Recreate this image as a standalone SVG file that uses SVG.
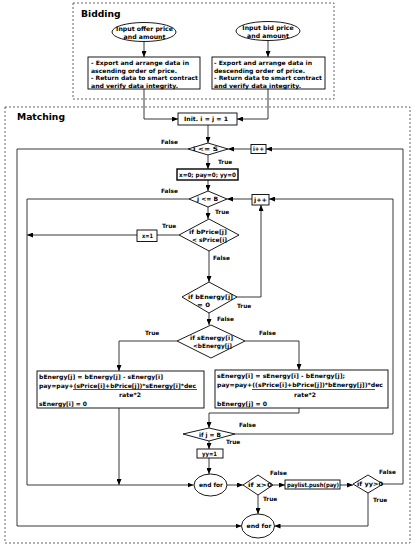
<svg xmlns="http://www.w3.org/2000/svg" width="416" height="550" viewBox="0 0 416 550">
<defs>
<marker id="ah" markerWidth="6" markerHeight="5" refX="6" refY="2.5" orient="auto" markerUnits="userSpaceOnUse"><path d="M0,0 L6,2.5 L0,5 z" fill="#000"/></marker>
<style>
text{font-family:"DejaVu Sans","Liberation Sans",sans-serif;font-weight:bold;fill:#000}
.t{font-size:6px}
.c{font-size:6px;text-anchor:middle}
.e{font-size:6.2px;text-anchor:middle}
.l{font-size:5.8px}
.h{font-size:9.2px}
.s{fill:#fff;stroke:#000;stroke-width:0.9}
.frame{fill:none;stroke:#555;stroke-width:0.9;stroke-dasharray:2,2}
.cn path{fill:none;stroke:#222;stroke-width:0.9}
.a{marker-end:url(#ah)}
</style>
</defs>
<rect width="416" height="550" fill="#fff"/>
<g id="bidding"><rect class="frame" x="73" y="3" width="261" height="96"/><text class="h" x="81" y="17">Bidding</text></g>
<g id="matching"><rect class="frame" x="5" y="107" width="405" height="436"/><text class="h" x="17" y="120">Matching</text></g>

<g class="cn" id="connectors">
<path class="a" d="M144,41.5 V57"/>
<path class="a" d="M268,40.5 V57"/>
<path class="a" d="M144,89 V119 H178"/>
<path class="a" d="M268,89 V119 H237"/>
<path class="a" d="M208,125 V143"/>
<path class="a" d="M208,155 V169"/>
<path class="a" d="M208,180 V191"/>
<path class="a" d="M208,207 V219"/>
<path d="M179,235 H157"/>
<path class="a" d="M137,235 H27"/>
<path class="a" d="M209,251 V282"/>
<path class="a" d="M237,297 H261 V205"/>
<path class="a" d="M209,313 V325"/>
<path class="a" d="M177,341 H119 V371"/>
<path class="a" d="M245,341 H299 V370"/>
<path class="a" d="M119,408 V485"/>
<path class="a" d="M299,408 V413 H209 V428"/>
<path class="a" d="M235,434 H393 V199 H269"/>
<path class="a" d="M252,199 H227"/>
<path class="a" d="M189,199 H27 V485 H193.5"/>
<path class="a" d="M209,441 V449"/>
<path class="a" d="M209,458 V474"/>
<path class="a" d="M227,485 H243"/>
<path class="a" d="M273,485 H285"/>
<path class="a" d="M340,485 H353"/>
<path class="a" d="M383,484 H403 V149 H266"/>
<path class="a" d="M251,149 H228"/>
<path class="a" d="M188,149 H17 V526 H241.5"/>
<path class="a" d="M258,495 V514"/>
<path class="a" d="M368,493 V526 H274.5"/>
</g>

<g id="offer"><ellipse class="s" cx="144" cy="32" rx="32" ry="9.5"/><text class="e" x="144.5" y="30.5">Input offer price</text><text class="e" x="144.5" y="38.5">and amount</text></g>
<g id="bid"><ellipse class="s" cx="268" cy="31" rx="32" ry="9.5"/><text class="e" x="268" y="29.5">Input bid price</text><text class="e" x="268" y="37.5">and amount</text></g>
<g id="sortAsc"><rect class="s" x="88" y="57" width="112" height="32"/>
<text class="t" x="91" y="65" textLength="98" lengthAdjust="spacingAndGlyphs">- Export and arrange data in</text><text class="t" x="91" y="72.5" textLength="86" lengthAdjust="spacingAndGlyphs">ascending order of price.</text><text class="t" x="91" y="80" textLength="107" lengthAdjust="spacingAndGlyphs">- Return data to smart contract</text><text class="t" x="91" y="87.5" textLength="87" lengthAdjust="spacingAndGlyphs">and verify data integrity.</text></g>
<g id="sortDesc"><rect class="s" x="212" y="57" width="113" height="32"/>
<text class="t" x="214" y="65" textLength="98" lengthAdjust="spacingAndGlyphs">- Export and arrange data in</text><text class="t" x="214" y="72.5" textLength="91" lengthAdjust="spacingAndGlyphs">descending order of price.</text><text class="t" x="214" y="80" textLength="108" lengthAdjust="spacingAndGlyphs">- Return data to smart contract</text><text class="t" x="214" y="87.5" textLength="87" lengthAdjust="spacingAndGlyphs">and verify data integrity.</text></g>

<g id="init"><rect class="s" x="178" y="113" width="59" height="12"/><text class="c" x="206" y="121.3" textLength="44" lengthAdjust="spacingAndGlyphs">Init. i = j = 1</text></g>
<g id="condI"><path class="s" d="M188,149 L208,143 L228,149 L208,155 z"/><text class="c" x="205.5" y="151.3" textLength="25" lengthAdjust="spacingAndGlyphs">i &lt;= S</text></g>
<g id="incI"><rect class="s" x="251" y="144.5" width="15" height="9"/><text class="c" x="258.5" y="151.3" textLength="11" lengthAdjust="spacingAndGlyphs">i++</text></g>
<g id="reset"><rect class="s" x="177" y="169" width="61" height="11" style="stroke-width:1.4"/><text class="c" x="207.5" y="176.8" textLength="57" lengthAdjust="spacingAndGlyphs">x=0; pay=0; yy=0</text></g>
<g id="condJ"><path class="s" d="M189,199 L208,191 L227,199 L208,207 z"/><text class="c" x="207.5" y="201.3" textLength="21" lengthAdjust="spacingAndGlyphs">j &lt;= B</text></g>
<g id="incJ"><rect class="s" x="252" y="194.5" width="17" height="10.5"/><text class="c" x="260.5" y="202" textLength="13" lengthAdjust="spacingAndGlyphs">j++</text></g>
<g id="condPrice"><path class="s" d="M179,235 L209,219 L239,235 L209,251 z"/><text class="c" x="208" y="234" textLength="38" lengthAdjust="spacingAndGlyphs">if bPrice[j]</text><text class="c" x="209.5" y="241.5" textLength="35" lengthAdjust="spacingAndGlyphs">&lt; sPrice[i]</text></g>
<g id="setX"><rect class="s" x="137" y="230" width="20" height="11.5"/><text class="c" x="147.5" y="238" textLength="11" lengthAdjust="spacingAndGlyphs">x=1</text></g>
<g id="condBE"><path class="s" d="M182,297 L209,282 L237,297 L209,313 z"/><text class="c" x="210.5" y="299" textLength="45" lengthAdjust="spacingAndGlyphs">if bEnergy[j]</text><text class="c" x="203.5" y="307" textLength="13" lengthAdjust="spacingAndGlyphs">= 0</text></g>
<g id="condSE"><path class="s" d="M177,341 L211,325 L245,341 L211,358 z"/><text class="c" x="211.5" y="340" textLength="43" lengthAdjust="spacingAndGlyphs">if sEnergy[i]</text><text class="c" x="212.5" y="347.5" textLength="39" lengthAdjust="spacingAndGlyphs">&lt;bEnergy[j]</text></g>
<g id="updL"><rect class="s" x="37" y="371" width="167" height="37"/>
<text class="t" x="39" y="379" textLength="124" lengthAdjust="spacingAndGlyphs">bEnergy[j] = bEnergy[j] - sEnergy[i]</text>
<text class="t" x="39" y="387.5" textLength="157" lengthAdjust="spacingAndGlyphs">pay=pay+(sPrice[i]+bPrice[j])*sEnergy[i]*dec</text>
<path d="M73,389.5 H197" stroke="#000" stroke-width="0.7"/>
<text class="c" x="130" y="397" textLength="22" lengthAdjust="spacingAndGlyphs">rate*2</text>
<text class="t" x="39" y="405.5" textLength="48" lengthAdjust="spacingAndGlyphs">sEnergy[i] = 0</text></g>
<g id="updR"><rect class="s" x="215" y="370" width="173" height="38"/>
<text class="t" x="217" y="377.5" textLength="128" lengthAdjust="spacingAndGlyphs">sEnergy[i] = sEnergy[i] - bEnergy[j];</text>
<text class="t" x="217" y="387" textLength="166" lengthAdjust="spacingAndGlyphs">pay=pay+((sPrice[i]+bPrice[j])*bEnergy[j])*dec</text>
<path d="M252,389.5 H375" stroke="#000" stroke-width="0.7"/>
<text class="c" x="305" y="396.5" textLength="22" lengthAdjust="spacingAndGlyphs">rate*2</text>
<text class="t" x="217" y="405.5" textLength="50" lengthAdjust="spacingAndGlyphs">bEnergy[j] = 0</text></g>
<g id="condJB"><path class="s" d="M183,434 L209,428 L235,434 L209,441 z"/><text class="c" x="210" y="436.5" textLength="22" lengthAdjust="spacingAndGlyphs">if j = B</text></g>
<g id="setYY"><rect class="s" x="197" y="449" width="26" height="9"/><text class="c" x="209.5" y="456" textLength="15" lengthAdjust="spacingAndGlyphs">yy=1</text></g>
<g id="endFor1"><ellipse class="s" cx="210.5" cy="485" rx="16.5" ry="11"/><text class="c" x="211" y="487.3" textLength="24" lengthAdjust="spacingAndGlyphs">end for</text></g>
<g id="condX"><path class="s" d="M243,485 L258,475 L273,485 L258,495 z"/><text class="c" x="260" y="487.3" textLength="24" lengthAdjust="spacingAndGlyphs">if x&gt;0</text></g>
<g id="push"><rect class="s" x="285" y="480" width="55" height="9"/><text class="c" x="313" y="487" textLength="52" lengthAdjust="spacingAndGlyphs">paylist.push(pay)</text></g>
<g id="condYY"><path class="s" d="M353,484 L368,475 L383,484 L368,493 z"/><text class="c" x="370" y="486.3" textLength="26" lengthAdjust="spacingAndGlyphs">if yy&gt;0</text></g>
<g id="endFor2"><ellipse class="s" cx="258" cy="526" rx="16.5" ry="12"/><text class="c" x="259" y="528.3" textLength="25" lengthAdjust="spacingAndGlyphs">end for</text></g>

<g id="labels">
<text class="l" x="161" y="144">False</text>
<text class="l" x="218" y="163.5">True</text>
<text class="l" x="161" y="192.5">False</text>
<text class="l" x="215" y="214">True</text>
<text class="l" x="162" y="228">True</text>
<text class="l" x="213" y="260">False</text>
<text class="l" x="237" y="308">True</text>
<text class="l" x="217" y="321">False</text>
<text class="l" x="145" y="335">True</text>
<text class="l" x="259" y="335">False</text>
<text class="l" x="239" y="427">False</text>
<text class="l" x="226" y="444">True</text>
<text class="l" x="270" y="475">False</text>
<text class="l" x="263" y="501">True</text>
<text class="l" x="379" y="474">False</text>
<text class="l" x="373" y="502">True</text>
</g>
</svg>
